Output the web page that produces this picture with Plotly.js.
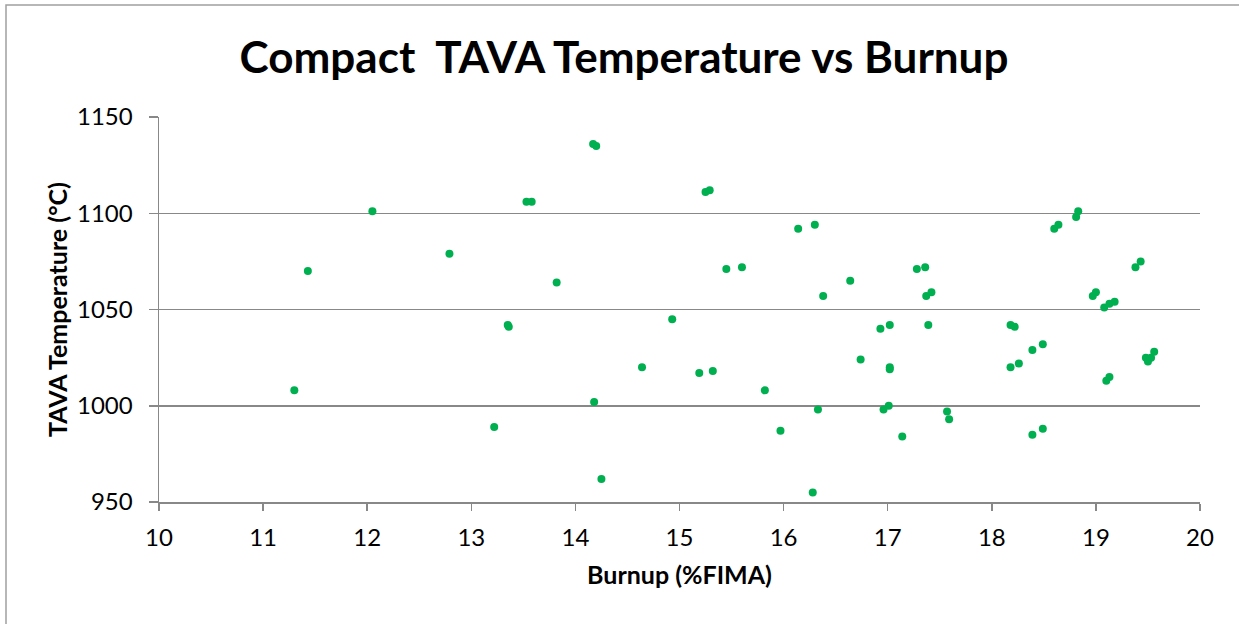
<!DOCTYPE html>
<html>
<head>
<meta charset="utf-8">
<script src="https://cdn.plot.ly/plotly-3.0.1.min.js"></script>
<style>
html,body{margin:0;padding:0;background:#fff;}
#chart{width:1239px;height:624px;}
</style>
</head>
<body>
<div id="chart"></div>
<script>
// Burnup (%FIMA)
const burnup = [
  11.30, 11.43, 12.05, 12.79, 13.35, 13.36, 13.22, 13.53, 13.58, 13.82,
  14.17, 14.20, 15.25, 15.29, 16.14, 16.30, 15.45, 15.60, 16.64, 16.38,
  14.93, 16.93, 17.02, 14.64, 15.19, 15.32, 16.74, 17.02, 17.02, 15.82,
  14.18, 16.33, 16.96, 17.01, 15.97, 14.25, 16.28, 17.14, 17.28, 17.36,
  17.37, 17.42, 17.39, 17.57, 17.59, 18.18, 18.22, 18.18, 18.26, 18.39,
  18.49, 18.39, 18.49, 18.60, 18.64, 18.81, 18.83, 18.97, 19.00, 19.08,
  19.13, 19.18, 19.38, 19.43, 19.10, 19.13, 19.48, 19.50, 19.53, 19.56
];
// TAVA Temperature (°C)
const tavaTemp = [
  1008, 1070, 1101, 1079, 1042, 1041, 989, 1106, 1106, 1064,
  1136, 1135, 1111, 1112, 1092, 1094, 1071, 1072, 1065, 1057,
  1045, 1040, 1042, 1020, 1017, 1018, 1024, 1020, 1019, 1008,
  1002, 998, 998, 1000, 987, 962, 955, 984, 1071, 1072,
  1057, 1059, 1042, 997, 993, 1042, 1041, 1020, 1022, 1029,
  1032, 985, 988, 1092, 1094, 1098, 1101, 1057, 1059, 1051,
  1053, 1054, 1072, 1075, 1013, 1015, 1025, 1023, 1025, 1028
];
const xTicks = [10, 11, 12, 13, 14, 15, 16, 17, 18, 19, 20];
const yTicks = [950, 1000, 1050, 1100, 1150];

const axisGrey = '#888888';
const font = 'Lato, "Open Sans", sans-serif';

const trace = {
  type: 'scatter',
  mode: 'markers',
  x: burnup,
  y: tavaTemp,
  marker: {color: '#00B050', size: 8, line: {width: 0}},
  hoverinfo: 'x+y'
};

const L = 159, R = 39, T = 117, B = 122;
const pw = 1239 - L - R, ph = 624 - T - B;
const px = v => (v - L) / pw;
const py = v => (624 - B - v) / ph;

const layout = {
  width: 1239,
  height: 624,
  margin: {l: L, r: R, t: T, b: B, pad: 0},
  paper_bgcolor: '#ffffff',
  plot_bgcolor: '#ffffff',
  showlegend: false,
  font: {family: font, color: '#000000'},
  title: {
    text: '<b>Compact  TAVA Temperature vs Burnup</b>',
    font: {family: font, size: 44, color: '#000000'},
    x: 624 / 1239, xanchor: 'center', xref: 'container',
    y: 1 - 58 / 624, yanchor: 'middle', yref: 'container'
  },
  xaxis: {
    range: [10, 20],
    tickvals: xTicks,
    ticktext: xTicks.map(String),
    showgrid: false,
    zeroline: false,
    showline: true,
    linecolor: axisGrey,
    linewidth: 1.5,
    ticks: 'outside',
    ticklen: 7,
    tickwidth: 1.5,
    tickcolor: axisGrey,
    ticklabelstandoff: 7,
    tickfont: {family: font, size: 24, color: '#000000'},
    title: {text: '<b>Burnup (%FIMA)</b>', font: {family: font, size: 25, color: '#000000'}, standoff: 16},
    fixedrange: true
  },
  yaxis: {
    range: [950, 1150],
    tickvals: yTicks,
    ticktext: yTicks.map(String),
    showgrid: true,
    gridcolor: axisGrey,
    gridwidth: 1.5,
    zeroline: false,
    showline: true,
    linecolor: axisGrey,
    linewidth: 1.5,
    ticks: 'outside',
    ticklen: 9,
    tickwidth: 1.5,
    tickcolor: axisGrey,
    ticklabelstandoff: 11,
    tickfont: {family: font, size: 24, color: '#000000'},
    title: {text: '<b>TAVA Temperature (°C)</b>', font: {family: font, size: 25, color: '#000000'}, standoff: 2},
    fixedrange: true
  },
  shapes: [{
    type: 'path',
    xref: 'paper', yref: 'paper',
    path: `M ${px(6)},${py(640)} L ${px(6)},${py(5)} L ${px(1250)},${py(5)}`,
    line: {color: '#a0a0a0', width: 1.5},
    layer: 'above'
  }]
};

Plotly.newPlot('chart', [trace], layout, {displayModeBar: false, staticPlot: true});
</script>
</body>
</html>
